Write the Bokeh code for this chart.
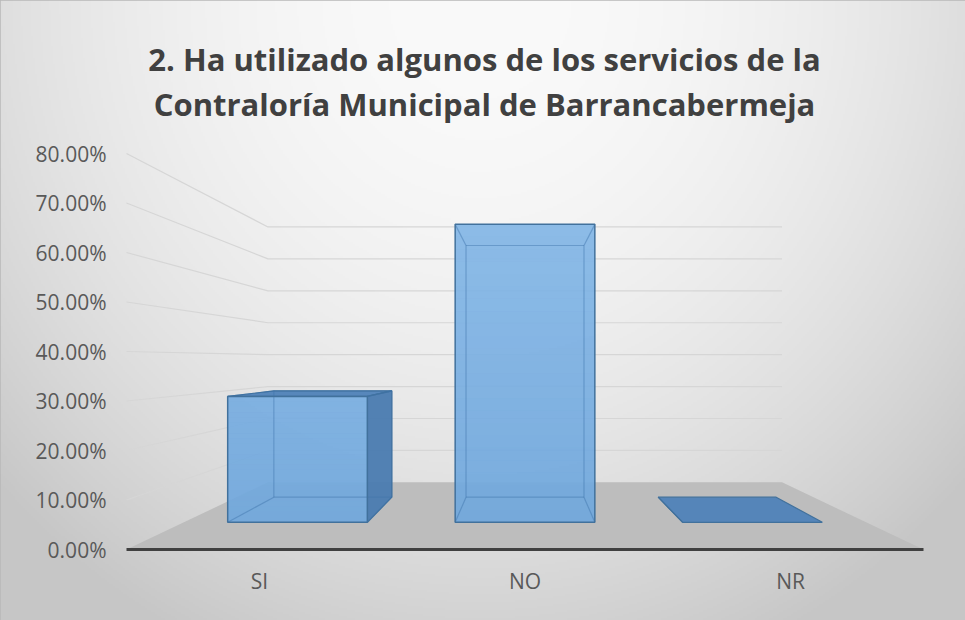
import numpy as np
from bokeh.plotting import figure
from bokeh.models import (Range1d, LinearAxis, FixedTicker, NumeralTickFormatter, Label)
from bokeh.embed import file_html
from bokeh.resources import INLINE

# ---------------- data ----------------
categories = ["SI", "NO", "NR"]
values = [0.297, 0.703, 0.0]
y_ticks = [0.0, 0.1, 0.2, 0.3, 0.4, 0.5, 0.6, 0.7, 0.8]
title_lines = ["2. Ha utilizado algunos de los servicios de la",
               "Contraloría Municipal de Barrancabermeja"]

# ---------------- layout / scales ----------------
W, H = 965, 620
PX_X, X0 = 265.67, 126.0     # px per category unit, frame px of x=0
PX_Y, Y0 = 495.0, 549.0      # px per 1.0 (100%), frame px (from top) of y=0
x_range = Range1d(-X0 / PX_X, (W - X0) / PX_X)
y_range = Range1d(-(H - Y0) / PX_Y, Y0 / PX_Y)

p = figure(width=W, height=H, x_range=x_range, y_range=y_range,
           output_backend="svg", toolbar_location=None,
           x_axis_type=None, y_axis_type=None, min_border=0,
           min_border_left=0, min_border_right=0, min_border_top=0, min_border_bottom=0)
p.background_fill_color = "#e4e4e4"
p.border_fill_color = "#e4e4e4"
p.outline_line_color = "#b8b8b8"
p.outline_line_width = 2

# ---------------- background radial gradient ----------------
ny, nx = 310, 483
jj = (np.arange(nx) + 0.5) * W / nx
ii = (np.arange(ny) + 0.5) * H / ny
XX, YY = np.meshgrid(jj, ii)
r2 = ((XX - 480) / 650.0) ** 2 + ((YY - 0) / 700.0) ** 2
g = np.clip(250 - 50 * r2, 198, 255).astype(np.uint32)
g = g[::-1, :]
img = (g | (g << 8) | (g << 16) | (np.uint32(255) << 24)).astype(np.uint32)
p.image_rgba(image=[img], x=x_range.start, y=y_range.start,
             dw=x_range.end - x_range.start, dh=y_range.end - y_range.start)

# ---------------- perspective helpers ----------------
VX, VY = 1.5, 0.382        # vanishing point in front-plane data coords
SB = 0.645                 # scale of back wall
K = 1.0 / SB - 1.0
NCAT = len(categories)


def proj(x, y, d):
    s = 1.0 / (1.0 + K * d)
    return VX + (x - VX) * s, VY + (y - VY) * s


# ---------------- floor ----------------
fl = [proj(0, 0, 0), proj(NCAT, 0, 0), proj(NCAT, 0, 1), proj(0, 0, 1)]
p.patch([q[0] for q in fl], [q[1] for q in fl], fill_color="#bdbdbd", line_color=None)

# ---------------- wall gridlines ----------------
gx, gy = [], []
for v in y_ticks[1:]:
    a = proj(0, v, 0)
    b = proj(0, v, 1)
    c = proj(NCAT, v, 1)
    gx.append([a[0], b[0], c[0]])
    gy.append([a[1], b[1], c[1]])
p.multi_line(gx, gy, line_color="#d6d6d6", line_width=1.2)

# ---------------- 3D bars ----------------
BW = 0.307
D0, D1 = 0.305, 0.695
vmax = max(values)

vis_xs, vis_ys, vis_col = [], [], []
front_xs, front_ys = [], []
sh_xs, sh_ys, sh_alpha = [], [], []
hid_xs, hid_ys = [], []
for i, h in enumerate(values):
    cx = i + 0.5
    xl, xr = cx - BW, cx + BW

    f_l0, f_r0, f_rh, f_lh = proj(xl, 0, D0), proj(xr, 0, D0), proj(xr, h, D0), proj(xl, h, D0)
    b_l0, b_r0, b_rh, b_lh = proj(xl, 0, D1), proj(xr, 0, D1), proj(xr, h, D1), proj(xl, h, D1)

    faces_vis = []
    if h < VY:
        faces_vis.append(([f_lh, f_rh, b_rh, b_lh], "#4f82b8"))
    if xr < VX:
        faces_vis.append(([f_r0, b_r0, b_rh, f_rh], "#4a7bb0"))
    if xl > VX:
        faces_vis.append(([f_l0, b_l0, b_lh, f_lh], "#4a7bb0"))
    for pts, col in faces_vis:
        vis_xs.append([q[0] for q in pts])
        vis_ys.append([q[1] for q in pts])
        vis_col.append(col)
    if h > 0:
        pts = [f_l0, f_r0, f_rh, f_lh]
        front_xs.append([q[0] for q in pts])
        front_ys.append([q[1] for q in pts])
        # light sheen on the front face, stronger towards the top
        n = 24
        for k in range(n):
            ya, yb = h * k / n, h * (k + 1) / n
            qa, qb = proj(xl, ya, D0), proj(xr, yb, D0)
            sh_xs.append([qa[0], qb[0], qb[0], qa[0]])
            sh_ys.append([qa[1], qa[1], qb[1], qb[1]])
            sh_alpha.append(0.26 * ((k + 0.5) / n) * (h / vmax))
        # hidden edges (seen through the translucent bar)
        for a, b in [(b_l0, b_r0), (b_r0, b_rh), (b_rh, b_lh), (b_lh, b_l0),
                     (f_l0, b_l0), (f_r0, b_r0), (f_rh, b_rh), (f_lh, b_lh)]:
            hid_xs.append([a[0], b[0]])
            hid_ys.append([a[1], b[1]])

p.patches(vis_xs, vis_ys, fill_color=vis_col, fill_alpha=0.95,
          line_color="#41719c", line_width=1.2)
p.patches(front_xs, front_ys, fill_color="#6ea6dd", fill_alpha=0.9,
          line_color=None)
p.patches(sh_xs, sh_ys, fill_color="#bfe2ff", fill_alpha=sh_alpha, line_color=None)
p.multi_line(hid_xs, hid_ys, line_color="#3f74aa", line_alpha=0.45, line_width=1.2)
p.patches(front_xs, front_ys, fill_color=None, line_color="#41719c", line_width=1.5)

# ---------------- axes ----------------
yaxis = LinearAxis(fixed_location=0, ticker=FixedTicker(ticks=y_ticks),
                   formatter=NumeralTickFormatter(format="0.00%"))
yaxis.axis_line_color = None
yaxis.major_tick_line_color = None
yaxis.minor_tick_line_color = None
yaxis.major_tick_out = 0
yaxis.major_label_standoff = 20
yaxis.major_label_text_font = "Open Sans"
yaxis.major_label_text_font_size = "21px"
yaxis.major_label_text_color = "#595959"
p.add_layout(yaxis, "left")

xaxis = LinearAxis(fixed_location=0,
                   ticker=FixedTicker(ticks=[i + 0.5 for i in range(NCAT)]),
                   major_label_overrides={i + 0.5: c for i, c in enumerate(categories)},
                   bounds=(0, NCAT))
xaxis.axis_line_color = "#404040"
xaxis.axis_line_width = 3
xaxis.major_tick_line_color = None
xaxis.minor_tick_line_color = None
xaxis.major_tick_out = 0
xaxis.major_label_standoff = 17
xaxis.major_label_text_font = "Open Sans"
xaxis.major_label_text_font_size = "21px"
xaxis.major_label_text_color = "#595959"
p.add_layout(xaxis, "below")

# ---------------- title ----------------
for txt, yb in zip(title_lines, [H - 58, H - 103]):
    p.add_layout(Label(x=484, y=yb, x_units="screen", y_units="screen", text=txt,
                       text_align="center", text_baseline="alphabetic",
                       text_font="Open Sans", text_font_size="31px",
                       text_font_style="bold", text_color="#404040"))

open("out.html", "w").write(file_html(p, INLINE))
